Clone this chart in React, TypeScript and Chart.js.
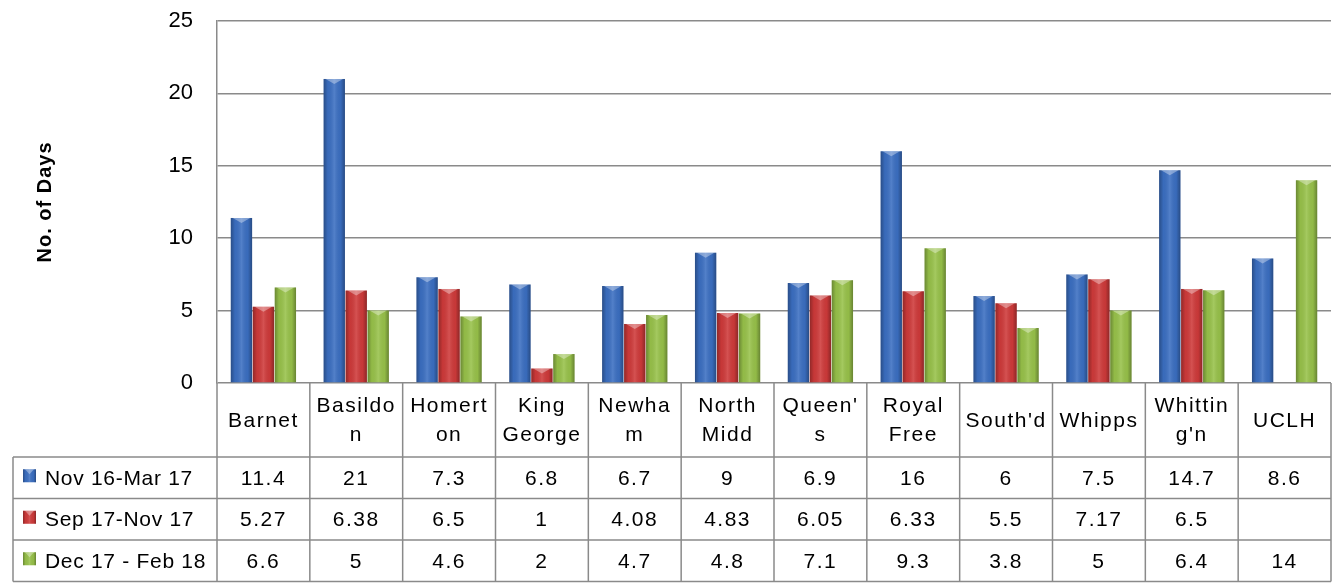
import React, { useEffect, useRef } from "react";
import { Chart, registerables } from "chart.js";

Chart.register(...registerables);

const categories: string[][] = [
  ["Barnet"],
  ["Basildo", "n"],
  ["Homert", "on"],
  ["King", "George"],
  ["Newha", "m"],
  ["North", "Midd"],
  ["Queen'", "s"],
  ["Royal", "Free"],
  ["South'd"],
  ["Whipps"],
  ["Whittin", "g'n"],
  ["UCLH"],
];

const seriesNames = ["Nov 16-Mar 17", "Sep 17-Nov 17", "Dec 17 - Feb 18"];

const nov16Mar17: (number | null)[] = [11.4, 21, 7.3, 6.8, 6.7, 9, 6.9, 16, 6, 7.5, 14.7, 8.6];
const sep17Nov17: (number | null)[] = [5.27, 6.38, 6.5, 1, 4.08, 4.83, 6.05, 6.33, 5.5, 7.17, 6.5, null];
const dec17Feb18: (number | null)[] = [6.6, 5, 4.6, 2, 4.7, 4.8, 7.1, 9.3, 3.8, 5, 6.4, 14];

const yTicks = [0, 5, 10, 15, 20, 25];
const yTitle = "No. of Days";

const seriesColors = ["#3b6fc2", "#cf3a3a", "#98c24a"];

const FONT = "'Liberation Sans', Arial, sans-serif";
const LINE = "#8a8a8a";

export default function App() {
  const ref = useRef<HTMLCanvasElement | null>(null);

  useEffect(() => {
    const canvas = ref.current;
    if (!canvas) return;
    const seriesData = [nov16Mar17, sep17Nov17, dec17Feb18];

    const shade = (ctx: CanvasRenderingContext2D, left: number, top: number, w: number, h: number) => {
      const g = ctx.createLinearGradient(left, 0, left + w, 0);
      g.addColorStop(0, "rgba(0,0,0,0.3)");
      g.addColorStop(0.2, "rgba(0,0,0,0.04)");
      g.addColorStop(0.5, "rgba(255,255,255,0.12)");
      g.addColorStop(0.8, "rgba(0,0,0,0.04)");
      g.addColorStop(1, "rgba(0,0,0,0.32)");
      ctx.fillStyle = g;
      ctx.fillRect(left, top, w, h);
      const bh = Math.min(5, h / 2);
      ctx.fillStyle = "rgba(255,255,255,0.35)";
      ctx.beginPath();
      ctx.moveTo(left + 2, top);
      ctx.lineTo(left + w - 2, top);
      ctx.lineTo(left + w / 2, top + bh);
      ctx.closePath();
      ctx.fill();
    };

    const tablePlugin = {
      id: "tablePlugin",
      afterDatasetsDraw(chart: any) {
        const ctx = chart.ctx as CanvasRenderingContext2D;
        ctx.save();
        chart.data.datasets.forEach((_ds: any, di: number) => {
          const meta = chart.getDatasetMeta(di);
          meta.data.forEach((el: any) => {
            if (el.skip || el.y == null || isNaN(el.y)) return;
            const left = el.x - el.width / 2;
            const top = Math.min(el.y, el.base);
            const h = Math.abs(el.base - el.y);
            if (h <= 0) return;
            shade(ctx, left, top, el.width, h);
          });
        });
        ctx.restore();
      },
      afterDraw(chart: any) {
        const ctx = chart.ctx as CanvasRenderingContext2D;
        const area = chart.chartArea;
        const n = categories.length;
        const colW = (area.right - area.left) / n;
        const headerTop = area.bottom;
        const headerBottom = 457;
        const rowH = 41.5;
        const rowsBottom = headerBottom + rowH * 3;
        const tableLeft = 13;

        ctx.save();
        ctx.strokeStyle = LINE;
        ctx.lineWidth = 1.5;

        for (let i = 0; i <= n; i++) {
          const x = area.left + i * colW;
          ctx.beginPath();
          ctx.moveTo(x, headerTop);
          ctx.lineTo(x, rowsBottom);
          ctx.stroke();
        }
        ctx.beginPath();
        ctx.moveTo(tableLeft, headerBottom);
        ctx.lineTo(tableLeft, rowsBottom);
        ctx.stroke();
        for (let r = 0; r <= 3; r++) {
          const y = headerBottom + r * rowH;
          ctx.beginPath();
          ctx.moveTo(tableLeft, y);
          ctx.lineTo(area.right, y);
          ctx.stroke();
        }

        ctx.fillStyle = "#000";
        ctx.font = `21px ${FONT}`;
        (ctx as any).letterSpacing = "1.5px";
        ctx.textAlign = "center";
        ctx.textBaseline = "middle";
        const hMid = (headerTop + headerBottom) / 2;
        const lh = 29;
        categories.forEach((lines, i) => {
          const cx = area.left + (i + 0.5) * colW;
          const start = hMid - ((lines.length - 1) * lh) / 2;
          lines.forEach((t, j) => ctx.fillText(t, cx, start + j * lh + 1));
        });

        seriesData.forEach((vals, r) => {
          const cy = headerBottom + (r + 0.5) * rowH;
          const ms = 13;
          const mt = cy - ms / 2 - 2;
          ctx.fillStyle = seriesColors[r];
          ctx.fillRect(23, mt, ms, ms);
          shade(ctx, 23, mt, ms, ms);
          ctx.fillStyle = "#000";
          ctx.textAlign = "left";
          (ctx as any).letterSpacing = "0.7px";
          ctx.fillText(seriesNames[r], 45, cy + 1);
          (ctx as any).letterSpacing = "1.5px";
          ctx.textAlign = "center";
          vals.forEach((v, i) => {
            if (v == null) return;
            const cx = area.left + (i + 0.5) * colW;
            ctx.fillText(String(v), cx, cy + 1);
          });
        });

        ctx.font = `bold 20px ${FONT}`;
        (ctx as any).letterSpacing = "1px";
        ctx.textAlign = "center";
        ctx.textBaseline = "middle";
        ctx.translate(45, (area.top + area.bottom) / 2);
        ctx.rotate(-Math.PI / 2);
        ctx.fillText(yTitle, 0, 0);
        ctx.restore();
      },
    };

    const chart = new Chart(canvas, {
      type: "bar",
      data: {
        labels: categories.map((c) => c.join("")),
        datasets: seriesData.map((d, i) => ({
          label: seriesNames[i],
          data: d,
          backgroundColor: seriesColors[i],
          borderWidth: 0,
          categoryPercentage: 0.71,
          barPercentage: 0.97,
        })),
      },
      options: {
        animation: false,
        responsive: false,
        maintainAspectRatio: false,
        layout: { padding: { top: 21, right: 2, left: 0, bottom: 0 } },
        plugins: {
          legend: { display: false },
          tooltip: { enabled: false },
          title: { display: false },
        },
        scales: {
          x: {
            ticks: { display: false },
            grid: { display: false, drawTicks: false },
            border: { display: false },
            afterFit(scale: any) {
              scale.height = 583 - 383;
              scale.paddingLeft = 0;
              scale.paddingRight = 0;
            },
          },
          y: {
            min: 0,
            max: 25,
            afterBuildTicks(scale: any) {
              scale.ticks = yTicks.map((v) => ({ value: v }));
            },
            ticks: {
              color: "#000",
              font: { family: FONT, size: 22 },
              padding: 24,
            },
            grid: { color: LINE, lineWidth: 1.5, drawTicks: false },
            border: { display: true, color: LINE, width: 1.5 },
            afterFit(scale: any) {
              scale.width = 217;
              scale.paddingTop = 0;
              scale.paddingBottom = 0;
            },
          },
        },
      },
      plugins: [tablePlugin],
    });

    return () => chart.destroy();
  }, []);

  return (
    <div style={{ position: "fixed", left: 0, top: 0, width: 1333, height: 583, background: "#fff" }}>
      <canvas ref={ref} width={1333} height={583} style={{ width: 1333, height: 583, display: "block" }} />
    </div>
  );
}
